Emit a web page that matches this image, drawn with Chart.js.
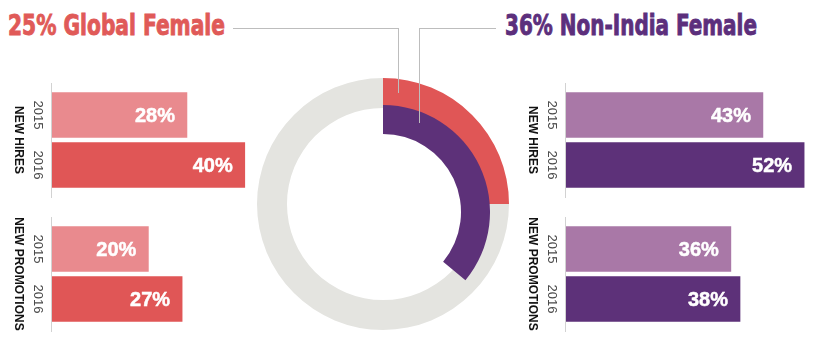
<!DOCTYPE html>
<html>
<head>
<meta charset="utf-8">
<script src="https://cdn.jsdelivr.net/npm/chart.js@4.4.1/dist/chart.umd.min.js"></script>
<style>
  html, body { margin: 0; padding: 0; background: #fff; }
  #board { position: relative; width: 815px; height: 344px; overflow: hidden; }
  #board canvas { position: absolute; }
  .title {
    position: absolute; top: 8px; white-space: nowrap;
    font-family: "Liberation Sans Narrow", "DejaVu Sans Condensed", "Liberation Sans", sans-serif;
    font-weight: bold; font-size: 29px; line-height: 34px;
    -webkit-text-stroke: 0.9px currentColor;
    transform-origin: 0 50%;
  }
  .rule { position: absolute; background: #bdbdbd; }
</style>
</head>
<body>
<div id="board">
  <canvas id="ringGlobal" width="252" height="252" style="left:257px;top:78px"></canvas>
  <canvas id="ringNonIndia" width="214" height="214" style="left:276px;top:105px"></canvas>

  <canvas id="globalHires" width="252" height="120" style="left:0;top:80px"></canvas>
  <canvas id="globalPromos" width="252" height="130" style="left:0;top:214px"></canvas>
  <canvas id="nonIndiaHires" width="297" height="120" style="left:514px;top:80px"></canvas>
  <canvas id="nonIndiaPromos" width="297" height="130" style="left:514px;top:214px"></canvas>

  <!-- leader lines from the headings down into the ring -->
  <div class="rule" style="left:233px;top:28px;width:166px;height:1px"></div>
  <div class="rule" style="left:398px;top:28px;width:1px;height:65px"></div>
  <div class="rule" style="left:419px;top:28px;width:77px;height:1px"></div>
  <div class="rule" style="left:419px;top:28px;width:1px;height:95px"></div>

  <div class="title" id="titleGlobal" style="left:8px;color:#e05a58"></div>
  <div class="title" id="titleNonIndia" style="left:505px;color:#5c2f7c"></div>
</div>

<script>
// Share of women overall
const globalFemaleShare = 25;
const nonIndiaFemaleShare = 36;

// Yearly breakdowns (% female)
const years = ['2015', '2016'];
const groupNames = ['NEW HIRES', 'NEW PROMOTIONS'];
const globalHires = [28, 40];
const globalPromotions = [20, 27];
const nonIndiaHires = [43, 52];
const nonIndiaPromotions = [36, 38];

const RED = '#e05656', RED_LIGHT = '#e98a8e';
const PURPLE = '#5d3179', PURPLE_LIGHT = '#a978a7';
const RING_GREY = '#e4e4e0';

// headings, squeezed to the width of the condensed face
function setTitle(id, text, width) {
    const el = document.getElementById(id);
    el.textContent = text;
    const w = el.getBoundingClientRect().width;
    if (w > 0) el.style.transform = 'scaleX(' + (width / w) + ')';
}
setTitle('titleGlobal', globalFemaleShare + '% Global Female', 217);
setTitle('titleNonIndia', nonIndiaFemaleShare + '% Non-India Female', 252);

// Draws axis rule, rotated year/group labels and the value inside each bar
const barLabels = {
    id: 'barLabels',
    afterDatasetsDraw(chart, args, opts) {
        const ctx = chart.ctx;
        const area = chart.chartArea;
        const bars = chart.getDatasetMeta(0).data;
        const values = chart.data.datasets[0].data;

        ctx.save();
        ctx.strokeStyle = '#d2d2d2';
        ctx.lineWidth = 1;
        ctx.beginPath();
        ctx.moveTo(area.left - 0.5, area.top - 7);
        ctx.lineTo(area.left - 0.5, area.bottom + 8);
        ctx.stroke();

        ctx.fillStyle = '#fff';
        ctx.strokeStyle = '#fff';
        ctx.lineWidth = 0.5;
        ctx.font = 'bold 20px "Liberation Sans", Arial, sans-serif';
        ctx.textAlign = 'right';
        ctx.textBaseline = 'middle';
        bars.forEach(function(bar, i) {
            ctx.fillText(values[i] + '%', bar.x - 12, bar.y + 1);
            ctx.strokeText(values[i] + '%', bar.x - 12, bar.y + 1);
        });

        function vertical(text, x, y, font, color) {
            ctx.save();
            ctx.translate(x, y);
            ctx.rotate(Math.PI / 2);
            ctx.font = font;
            ctx.fillStyle = color;
            ctx.textAlign = 'center';
            ctx.textBaseline = 'middle';
            ctx.fillText(text, 0, 0);
            ctx.restore();
        }
        bars.forEach(function(bar, i) {
            vertical(chart.data.labels[i], area.left - 14, bar.y, '13px "Liberation Sans", Arial, sans-serif', '#4a4a4a');
        });
        vertical(opts.group, area.left - 34, (area.top + area.bottom) / 2, 'bold 12px "Liberation Sans", Arial, sans-serif', '#111');
        ctx.restore();
    }
};

function barChart(id, values, colors, max, bottomPad, group) {
    return new Chart(document.getElementById(id), {
        type: 'bar',
        data: {
            labels: years,
            datasets: [{ data: values, backgroundColor: colors, borderWidth: 0, barThickness: 45, categoryPercentage: 1 }]
        },
        options: {
            indexAxis: 'y',
            responsive: false,
            animation: false,
            devicePixelRatio: 1,
            layout: { padding: { left: 52, right: 0, top: 10, bottom: bottomPad } },
            scales: {
                x: { display: false, min: 0, max: max },
                y: { display: false }
            },
            plugins: {
                legend: { display: false },
                tooltip: { enabled: false },
                barLabels: { group: group }
            }
        },
        plugins: [barLabels]
    });
}

// left side: global, right side: outside India
barChart('globalHires', globalHires, [RED_LIGHT, RED], 41.5, 10, groupNames[0]);
barChart('globalPromos', globalPromotions, [RED_LIGHT, RED], 41.5, 20, groupNames[1]);
barChart('nonIndiaHires', nonIndiaHires, [PURPLE_LIGHT, PURPLE], 53.5, 10, groupNames[0]);
barChart('nonIndiaPromos', nonIndiaPromotions, [PURPLE_LIGHT, PURPLE], 53.5, 20, groupNames[1]);

function ringChart(id, share, color, rest, cutout) {
    return new Chart(document.getElementById(id), {
        type: 'doughnut',
        data: {
            labels: ['Female', 'Other'],
            datasets: [{ data: [share, 100 - share], backgroundColor: [color, rest], borderWidth: 0 }]
        },
        options: {
            responsive: false,
            animation: false,
            devicePixelRatio: 1,
            cutout: cutout,
            plugins: { legend: { display: false }, tooltip: { enabled: false } }
        }
    });
}

ringChart('ringGlobal', globalFemaleShare, RED, RING_GREY, '76.2%');
ringChart('ringNonIndia', nonIndiaFemaleShare, PURPLE, 'rgba(0,0,0,0)', '72.9%');
</script>
</body>
</html>
